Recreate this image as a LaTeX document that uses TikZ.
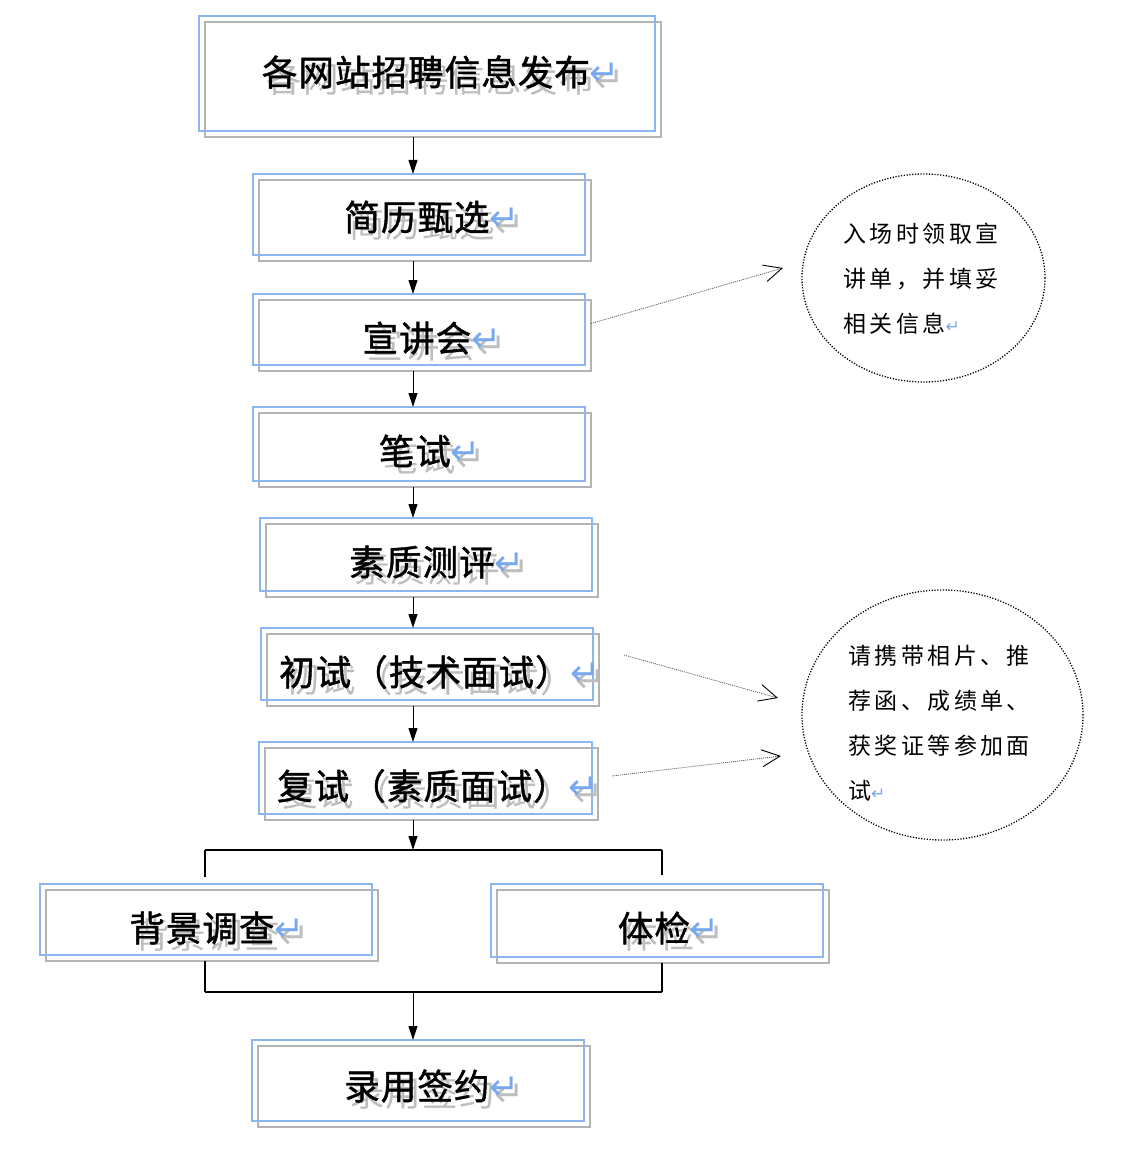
\documentclass[tikz,border=0pt]{standalone}
\usepackage{fontspec}
\usetikzlibrary{arrows.meta,shapes.geometric}
\newfontfamily\cjk[FakeBold=1.2,LetterSpace=3]{Noto Sans CJK SC}
\newfontfamily\cjksh[LetterSpace=3]{Noto Sans CJK SC}
\newfontfamily\cjksp[LetterSpace=15]{Noto Sans CJK SC}
\newfontfamily\djv{DejaVu Sans}
\definecolor{boxblue}{HTML}{8DB6F0}
\definecolor{boxgray}{HTML}{B4B4B4}
\definecolor{shadowgray}{HTML}{BEBEBE}
\definecolor{retblue}{HTML}{78A8EE}
\newcommand\bt[1]{\rlap{\smash{\hspace*{5pt}\raisebox{-7pt}{\color{shadowgray}\cjksh #1{\fontsize{36}{40}\djv ↵}}}}#1{\fontsize{36}{40}\djv\color{retblue}↵}}
\newcommand\smallret{{\fontsize{17}{17}\djv\color{retblue}↵}}
\newcommand\twinbox[5]{%
  \node[graybox,minimum width=#4,minimum height=#5] (g#1) at (#2+6,#3+6) {};
  \node[bluebox,minimum width=#4,minimum height=#5] (b#1) at (#2,#3) {};}
\begin{document}
\begin{tikzpicture}[x=1pt,y=-1pt,
  bluebox/.style={draw=boxblue,line width=1.8pt,inner sep=0pt,outer sep=0pt},
  graybox/.style={draw=boxgray,line width=1.8pt,inner sep=0pt,outer sep=0pt},
  btext/.style={inner sep=0pt,font=\fontsize{35.5}{40}\cjk},
  etext/.style={inner sep=0pt,anchor=north west,align=left,font=\fontsize{23}{45}\cjksp},
  dotell/.style={ellipse,draw=black,line width=1.3pt,dash pattern=on 1.2pt off 1.6pt,inner sep=0pt},
  arr/.style={draw=black,line width=1pt,-{Triangle[length=14pt,width=9pt]}},
  ln/.style={draw=black,line width=1.3pt},
  note/.style={draw=black!65,line width=0.8pt,dash pattern=on 1pt off 1pt,
    -{Straight Barb[length=18pt,width=17pt,line width=0.9pt,color=black]}}]
\useasboundingbox (0,0) rectangle (1122,1166);
\fill[white] (0,0) rectangle (1122,1166);

\twinbox{1}{427}{73.5}{456}{115}
\twinbox{2}{419}{214.5}{332}{81}
\twinbox{3}{419}{329.5}{332}{71}
\twinbox{4}{419}{444}{332}{74}
\twinbox{5}{426}{554.5}{332}{73}
\twinbox{6}{427}{664}{332}{72}
\twinbox{7}{425.5}{778}{333}{72}
\twinbox{8}{206}{919.5}{332}{71}
\twinbox{9}{657}{920.5}{332}{73}
\twinbox{10}{418}{1080.5}{332}{81}

\node[btext] (t1) at (441,72) {\bt{各网站招聘信息发布}};
\node[btext] (t2) at (432,217) {\bt{简历甄选}};
\node[btext] (t3) at (432,338) {\bt{宣讲会}};
\node[btext] (t4) at (430,451) {\bt{笔试}};
\node[btext] (t5) at (437,562) {\bt{素质测评}};
\node[btext] (t6) at (440,672) {\bt{初试（技术面试）}};
\node[btext] (t7) at (438,786) {\bt{复试（素质面试）}};
\node[btext] (t8) at (217,928) {\bt{背景调查}};
\node[btext] (t9) at (669,928) {\bt{体检}};
\node[btext] (t10) at (432,1086) {\bt{录用签约}};

% main column
\coordinate (ax) at (413,0);
\draw[arr] (ax |- g1.south) -- (ax |- b2.north);
\draw[arr] (ax |- g2.south) -- (ax |- b3.north);
\draw[arr] (ax |- g3.south) -- (ax |- b4.north);
\draw[arr] (ax |- g4.south) -- (ax |- b5.north);
\draw[arr] (ax |- g5.south) -- (ax |- b6.north);
\draw[arr] (ax |- g6.south) -- (ax |- b7.north);

% branch
\coordinate (tl) at (205,850);
\coordinate (tr) at (662,850);
\coordinate (tld) at (205,877);
\coordinate (trd) at (662,875);
\coordinate (bl) at (205,992);
\coordinate (br) at (662,992);
\draw[arr] (ax |- g7.south) -- (ax |- tl);
\draw[ln,line width=1.8pt] (tl) -- (tr);
\draw[ln] (tl) -- (tld);
\draw[ln] (tr) -- (trd);
\draw[ln] (g8.south -| bl) -- (bl);
\draw[ln] (g9.south -| br) -- (br);
\draw[ln,line width=1.8pt] (bl) -- (br);
\draw[arr] (ax |- bl) -- (ax |- b10.north);

% notes
\node[dotell,minimum width=243,minimum height=208] (e1) at (923.5,278) {};
\node[dotell,minimum width=281,minimum height=250] (e2) at (942.5,715) {};
\node[etext] (n1) at (843,223) {入场时领取宣\\讲单，并填妥\\相关信息\smallret};
\node[etext] (n2) at (848,645) {请携带相片、推\\荐函、成绩单、\\获奖证等参加面\\试\smallret};

\coordinate (s1) at ([shift={(0,-12)}]g3.east);
\coordinate (a1) at (783,268);
\coordinate (s2) at (624,655);
\coordinate (a2) at (778,698);
\coordinate (s3) at (612,776);
\coordinate (a3) at (781,756);
\draw[note] (s1) -- (a1);
\draw[note] (s2) -- (a2);
\draw[note] (s3) -- (a3);
\end{tikzpicture}
\end{document}
